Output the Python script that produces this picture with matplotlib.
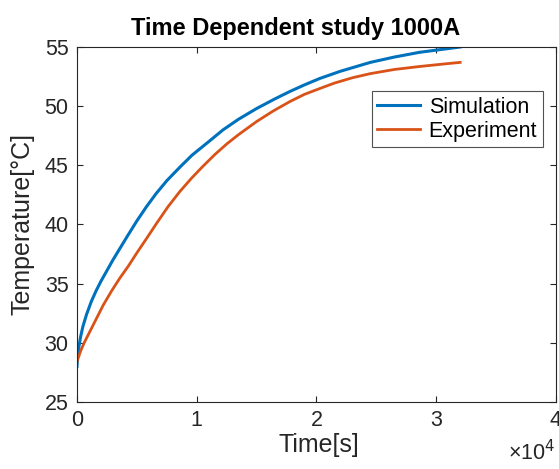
import matplotlib.pyplot as plt
from matplotlib.ticker import FuncFormatter

# values
sim_t = [0, 50, 150, 300, 500, 800, 1200, 1600, 2000, 2500, 3000, 3600, 4200,
         5000, 5800, 6600, 7500, 8600, 9600, 11000, 12200, 13500, 15000, 16500,
         17800, 19000, 20300, 22000, 24500, 26500, 28600, 30500, 32000]
sim_T = [28.0, 28.8, 29.6, 30.5, 31.4, 32.4, 33.5, 34.4, 35.2, 36.1, 37.0, 38.0, 39.0,
         40.3, 41.5, 42.6, 43.7, 44.85, 45.85, 47.0, 48.0, 48.9, 49.8, 50.6,
         51.25, 51.8, 52.35, 52.95, 53.7, 54.15, 54.55, 54.8, 55.0]

exp_t = [0, 300, 600, 1100, 1600, 2200, 2900, 3600, 4300, 5000, 5800, 6650, 7600,
         8600, 9600, 10500, 11500, 12500, 13500, 15000, 16400, 17800, 19000, 20300,
         21500, 23000, 24500, 26500, 28600, 30500, 32000]
exp_T = [28.4, 29.3, 30.0, 31.0, 32.0, 33.2, 34.4, 35.5, 36.5, 37.6, 38.8, 40.1, 41.5,
         42.8, 43.95, 44.9, 45.9, 46.8, 47.6, 48.7, 49.6, 50.4, 51.0, 51.5,
         51.95, 52.4, 52.75, 53.1, 53.35, 53.55, 53.7]

plt.rcParams['font.family'] = ['Liberation Sans', 'DejaVu Sans']
dark = '#262626'

fig = plt.figure(figsize=(5.59, 4.69), dpi=100)
ax = fig.add_axes([0.1377, 0.1429, 0.8569, 0.7569])

ax.plot(sim_t, sim_T, color='#0072BD', lw=2.2, label='Simulation')
ax.plot(exp_t, exp_T, color='#D95319', lw=2.0, label='Experiment')

ax.set_xlim(0, 40000)
ax.set_ylim(25, 55)
ax.set_xticks([0, 10000, 20000, 30000, 40000])
ax.set_yticks(range(25, 56, 5))
ax.xaxis.set_major_formatter(FuncFormatter(lambda v, p: '%d' % round(v / 1e4)))
ax.tick_params(direction='in', top=True, right=True, length=4, width=0.8,
               labelsize=15.5, colors=dark, pad=6)
for s in ax.spines.values():
    s.set_color(dark)
    s.set_linewidth(0.8)

fig.text(0.528, 0.925, 'Time Dependent study 1000A', ha='center', va='baseline',
         fontsize=17, fontweight='bold')
ax.set_xlabel('Time[s]', fontsize=18, color=dark)
ax.xaxis.set_label_coords(0.505, -0.087)
ax.set_ylabel('Temperature[\u00b0C]', fontsize=18, color=dark)
ax.yaxis.set_label_coords(-0.088, 0.5)
fig.text(0.993, 0.008, '\u00d710$^4$', ha='right', va='bottom', fontsize=15.5, color=dark)

leg = ax.legend(loc='upper right', bbox_to_anchor=(0.972, 0.875), fontsize=15.5,
                frameon=True, fancybox=False, handlelength=2.0, borderpad=0.25,
                labelspacing=0.15, handletextpad=0.4, borderaxespad=0)
leg.get_frame().set_edgecolor(dark)
leg.get_frame().set_linewidth(0.8)

fig.savefig('out.png', dpi=100)
